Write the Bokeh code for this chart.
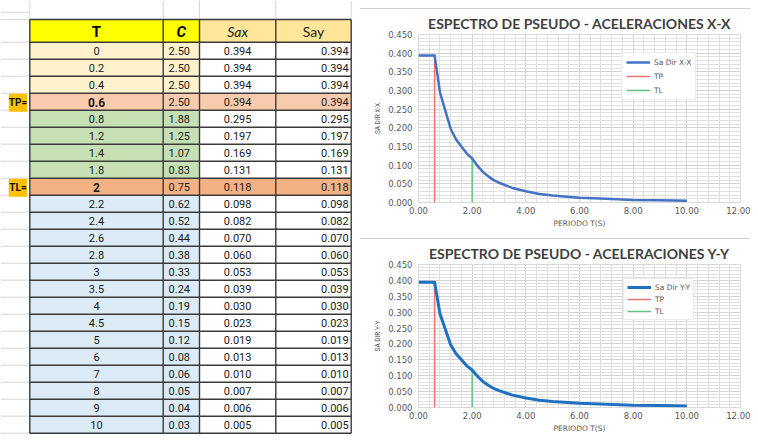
from bokeh.plotting import figure
from bokeh.models import (Range1d, SingleIntervalTicker, NumeralTickFormatter,
                          Legend, LegendItem, Div, Spacer)
from bokeh.layouts import row, column
from bokeh.embed import file_html
from bokeh.resources import INLINE
from bokeh.core.properties import value

# ---------------- data ----------------
T = [0, 0.2, 0.4, 0.6, 0.8, 1.2, 1.4, 1.8, 2, 2.2, 2.4, 2.6, 2.8, 3, 3.5, 4, 4.5, 5, 6, 7, 8, 9, 10]
C = [2.50, 2.50, 2.50, 2.50, 1.88, 1.25, 1.07, 0.83, 0.75, 0.62, 0.52, 0.44, 0.38, 0.33, 0.24,
     0.19, 0.15, 0.12, 0.08, 0.06, 0.05, 0.04, 0.03]
SAX = [0.394, 0.394, 0.394, 0.394, 0.295, 0.197, 0.169, 0.131, 0.118, 0.098, 0.082, 0.070, 0.060,
       0.053, 0.039, 0.030, 0.023, 0.019, 0.013, 0.010, 0.007, 0.006, 0.005]
SAY = [0.394, 0.394, 0.394, 0.394, 0.295, 0.197, 0.169, 0.131, 0.118, 0.098, 0.082, 0.070, 0.060,
       0.053, 0.039, 0.030, 0.023, 0.019, 0.013, 0.010, 0.007, 0.006, 0.005]
TP = 0.6
TL = 2.0
HEADERS = ["T", "C", "Sax", "Say"]
MARK_LABELS = {TP: "TP=", TL: "TL="}
TITLE_X = "ESPECTRO DE PSEUDO - ACELERACIONES X-X"
TITLE_Y = "ESPECTRO DE PSEUDO - ACELERACIONES Y-Y"
X_LABEL = "PERIODO T(S)"
Y_LABEL_X = "SA DIR X-X"
Y_LABEL_Y = "SA DIR Y-Y"
SERIES_X = "Sa Dir X-X"
SERIES_Y = "Sa Dir Y-Y"

# ---------------- styles / layout ----------------
NARROW = "Roboto"
COL_EDGES = [29.3, 162.7, 199.0, 275.3, 350.7]
HEAD_TOP, HEAD_BOTTOM = 19.0, 41.7
ROW_H = 17.0
LABEL_L, LABEL_R = 8.3, 26.7
C_PLATEAU, C_TP, C_MID, C_TL, C_TAIL = "#FFF2CC", "#F8CBAD", "#C6E0B4", "#F4B183", "#DDEBF7"
HEAD_COLORS = ["#FFFF00", "#FFFF00", "#FFE699", "#FFE699"]
BORDER = "#3a3a3a"
FAINT = "#D6D6D6"
PAGE_W, PAGE_H = 360, 435

n = len(T)
tops = [HEAD_BOTTOM + i * ROW_H for i in range(n)]
bots = [t + ROW_H for t in tops]
mids = [t + ROW_H / 2 for t in tops]


def zone_color(t):
    if t < TP:
        return C_PLATEAU
    if t == TP:
        return C_TP
    if t < TL:
        return C_MID
    if t == TL:
        return C_TL
    return C_TAIL


# ---------------- table figure ----------------
tbl = figure(width=PAGE_W, height=PAGE_H, x_range=Range1d(0, PAGE_W), y_range=Range1d(PAGE_H, 0),
             output_backend="svg", toolbar_location=None, min_border=0,
             x_axis_type=None, y_axis_type=None)
tbl.grid.visible = False
tbl.outline_line_color = None

# faint spreadsheet gridlines
fy = [11.7, HEAD_TOP, HEAD_BOTTOM] + bots
tbl.segment(x0=[0] * len(fy), x1=[COL_EDGES[0]] * len(fy), y0=fy, y1=fy, line_color=FAINT, line_width=1)
tbl.segment(x0=COL_EDGES, x1=COL_EDGES, y0=[0] * 5, y1=[HEAD_TOP] * 5, line_color=FAINT, line_width=1)
tbl.segment(x0=COL_EDGES, x1=COL_EDGES, y0=[bots[-1]] * 5, y1=[PAGE_H] * 5, line_color=FAINT, line_width=1)

# header cells
tbl.quad(left=COL_EDGES[:-1], right=COL_EDGES[1:], top=[HEAD_TOP] * 4, bottom=[HEAD_BOTTOM] * 4,
         fill_color=HEAD_COLORS, line_color=None)

# body cells
ql, qr, qt, qb, qc = [], [], [], [], []
for i, t in enumerate(T):
    zc = zone_color(t)
    for j in range(4):
        ql.append(COL_EDGES[j]); qr.append(COL_EDGES[j + 1])
        qt.append(tops[i]); qb.append(bots[i])
        if j < 2 or t in (TP, TL):
            qc.append(zc)
        else:
            qc.append("#FFFFFF")
tbl.quad(left=ql, right=qr, top=qt, bottom=qb, fill_color=qc, line_color=None)

# TP= / TL= label boxes
mk_rows = [T.index(k) for k in MARK_LABELS]
tbl.quad(left=[LABEL_L] * len(mk_rows), right=[LABEL_R] * len(mk_rows),
         top=[tops[i] + 0.5 for i in mk_rows], bottom=[bots[i] + 1.5 for i in mk_rows],
         fill_color="#FFC000", line_color=None)
tbl.text(x=[(LABEL_L + LABEL_R) / 2] * len(mk_rows), y=[mids[i] + 1.2 for i in mk_rows],
         text=[MARK_LABELS[T[i]] for i in mk_rows], text_align="center", text_baseline="middle",
         text_font=value(NARROW), text_font_style="bold", text_font_size="10px", text_color="#111111")

# borders
hy = [HEAD_TOP, HEAD_BOTTOM] + bots
tbl.segment(x0=[COL_EDGES[0]] * len(hy), x1=[COL_EDGES[-1]] * len(hy), y0=hy, y1=hy,
            line_color=BORDER, line_width=1.4)
tbl.segment(x0=COL_EDGES, x1=COL_EDGES, y0=[HEAD_TOP] * 5, y1=[bots[-1]] * 5,
            line_color=BORDER, line_width=1.4)

# header texts
hx = [(COL_EDGES[j] + COL_EDGES[j + 1]) / 2 for j in range(4)]
hm = (HEAD_TOP + HEAD_BOTTOM) / 2 + 1
tbl.text(x=hx[:1], y=[hm], text=HEADERS[:1], text_align="center", text_baseline="middle",
         text_font=value(NARROW), text_font_style="bold", text_font_size="15px", text_color="#000000")
tbl.text(x=hx[1:2], y=[hm], text=HEADERS[1:2], text_align="center", text_baseline="middle",
         text_font=value(NARROW), text_font_style="bold italic", text_font_size="15px", text_color="#000000")
tbl.text(x=hx[2:3], y=[hm], text=HEADERS[2:3], text_align="center", text_baseline="middle",
         text_font=value("Lato"), text_font_style="italic", text_font_size="14px", text_color="#222222")
tbl.text(x=hx[3:4], y=[hm], text=HEADERS[3:4], text_align="center", text_baseline="middle",
         text_font=value("Lato"), text_font_style="normal", text_font_size="14px", text_color="#222222")

# body texts
bold_rows = [i for i, t in enumerate(T) if t in (TP, TL)]
norm_rows = [i for i, t in enumerate(T) if t not in (TP, TL)]
tcx = hx[0]
FS = "11px"
tbl.text(x=[tcx] * len(norm_rows), y=[mids[i] + 0.5 for i in norm_rows], text=[f"{T[i]:g}" for i in norm_rows],
         text_align="center", text_baseline="middle", text_font=value(NARROW),
         text_font_size=FS, text_color="#1a1a1a")
tbl.text(x=[tcx] * len(bold_rows), y=[mids[i] + 0.5 for i in bold_rows], text=[f"{T[i]:g}" for i in bold_rows],
         text_align="center", text_baseline="middle", text_font=value(NARROW), text_font_style="bold",
         text_font_size="12px", text_color="#1a1a1a")
tbl.text(x=[COL_EDGES[2] - 9.5] * n, y=[m + 0.5 for m in mids], text=[f"{c:.2f}" for c in C],
         text_align="right", text_baseline="middle", text_font=value(NARROW),
         text_font_size=FS, text_color="#1a1a1a")
tbl.text(x=[hx[2]] * n, y=[m + 0.5 for m in mids], text=[f"{s:.3f}" for s in SAX],
         text_align="center", text_baseline="middle", text_font=value(NARROW),
         text_font_size=FS, text_color="#1a1a1a")
tbl.text(x=[COL_EDGES[4] - 2.5] * n, y=[m + 0.5 for m in mids], text=[f"{s:.3f}" for s in SAY],
         text_align="right", text_baseline="middle", text_font=value(NARROW),
         text_font_size=FS, text_color="#1a1a1a")


# ---------------- chart figures ----------------
def spectrum(title, ylab, series, sa, color, lw, height, bl, br, bt, bb, loc, spacing, padding):
    p = figure(width=390, height=height, x_range=Range1d(0, 12), y_range=Range1d(0, 0.45),
               output_backend="svg", toolbar_location=None,
               min_border_left=bl, min_border_right=br, min_border_top=bt, min_border_bottom=bb)
    p.title.text = title
    p.title.align = "center"
    p.title.text_font = "Lato"
    p.title.text_font_style = "bold"
    p.title.text_font_size = "14px"
    p.title.text_color = "#3f3f3f"
    p.title.standoff = 6
    p.outline_line_color = "#D9D9D9"

    p.xaxis.ticker = SingleIntervalTicker(interval=2, num_minor_ticks=5)
    p.yaxis.ticker = SingleIntervalTicker(interval=0.05, num_minor_ticks=5)
    p.xaxis.formatter = NumeralTickFormatter(format="0.00")
    p.yaxis.formatter = NumeralTickFormatter(format="0.000")
    for ax in (p.xaxis[0], p.yaxis[0]):
        ax.axis_line_color = None
        ax.major_tick_line_color = None
        ax.minor_tick_line_color = None
        ax.major_tick_out = 0
        ax.minor_tick_out = 0
        ax.major_label_text_font = "DejaVu Sans"
        ax.major_label_text_font_size = "8.5px"
        ax.major_label_text_color = "#595959"
        ax.axis_label_text_font_style = "normal"
        ax.axis_label_text_color = "#595959"
    p.xaxis.axis_label = X_LABEL
    p.xaxis.axis_label_text_font = "DejaVu Sans"
    p.xaxis.axis_label_text_font_size = "7.5px"
    p.xaxis.major_label_standoff = 4
    p.xaxis.axis_label_standoff = 2
    p.yaxis.axis_label = ylab
    p.yaxis.axis_label_text_font = NARROW
    p.yaxis.axis_label_text_font_size = "6.5px"
    p.yaxis.major_label_standoff = 6
    p.yaxis.axis_label_standoff = 3

    for g in (p.xgrid[0], p.ygrid[0]):
        g.grid_line_color = "#D2D2D2"
        g.minor_grid_line_color = "#E0E0E0"
        g.grid_line_width = 1
        g.minor_grid_line_width = 1

    i_tp, i_tl = T.index(TP), T.index(TL)
    r_tp = p.segment(x0=[TP], y0=[0], x1=[TP], y1=[sa[i_tp]], line_color="#F07474", line_width=1.5)
    r_tl = p.segment(x0=[TL], y0=[0], x1=[TL], y1=[sa[i_tl]], line_color="#5CC584", line_width=1.5)
    r_sa = p.line(T, sa, line_color=color, line_width=lw, line_join="round")

    leg = Legend(items=[LegendItem(label=series, renderers=[r_sa]),
                        LegendItem(label="TP", renderers=[r_tp]),
                        LegendItem(label="TL", renderers=[r_tl])],
                 location=loc, spacing=spacing, padding=padding, margin=0,
                 glyph_width=24, glyph_height=10, label_height=10, label_standoff=4,
                 label_text_font="DejaVu Sans", label_text_font_size="7.5px",
                 label_text_color="#595959", border_line_color="#D9D9D9",
                 background_fill_color="#FFFFFF", background_fill_alpha=1)
    p.add_layout(leg)
    return p


p1 = spectrum(TITLE_X, Y_LABEL_X, SERIES_X, SAX, "#4472C4", 2.5, 229,
              56, 10, 22, 36, (203, 102), 4, 4)
p2 = spectrum(TITLE_Y, Y_LABEL_Y, SERIES_Y, SAY, "#1F70C1", 3, 196,
              58, 3, 24, 25, (205, 87), 2, 3)

sep_style = {"background-color": "#CFCFCF"}
right = column(Spacer(width=390, height=8, margin=0),
               Div(width=390, height=1, margin=0, styles=sep_style),
               p1,
               Div(width=390, height=1, margin=0, styles=sep_style),
               p2, spacing=0)
layout = row(tbl, right, spacing=0)

open("out.html", "w").write(file_html(layout, INLINE))
